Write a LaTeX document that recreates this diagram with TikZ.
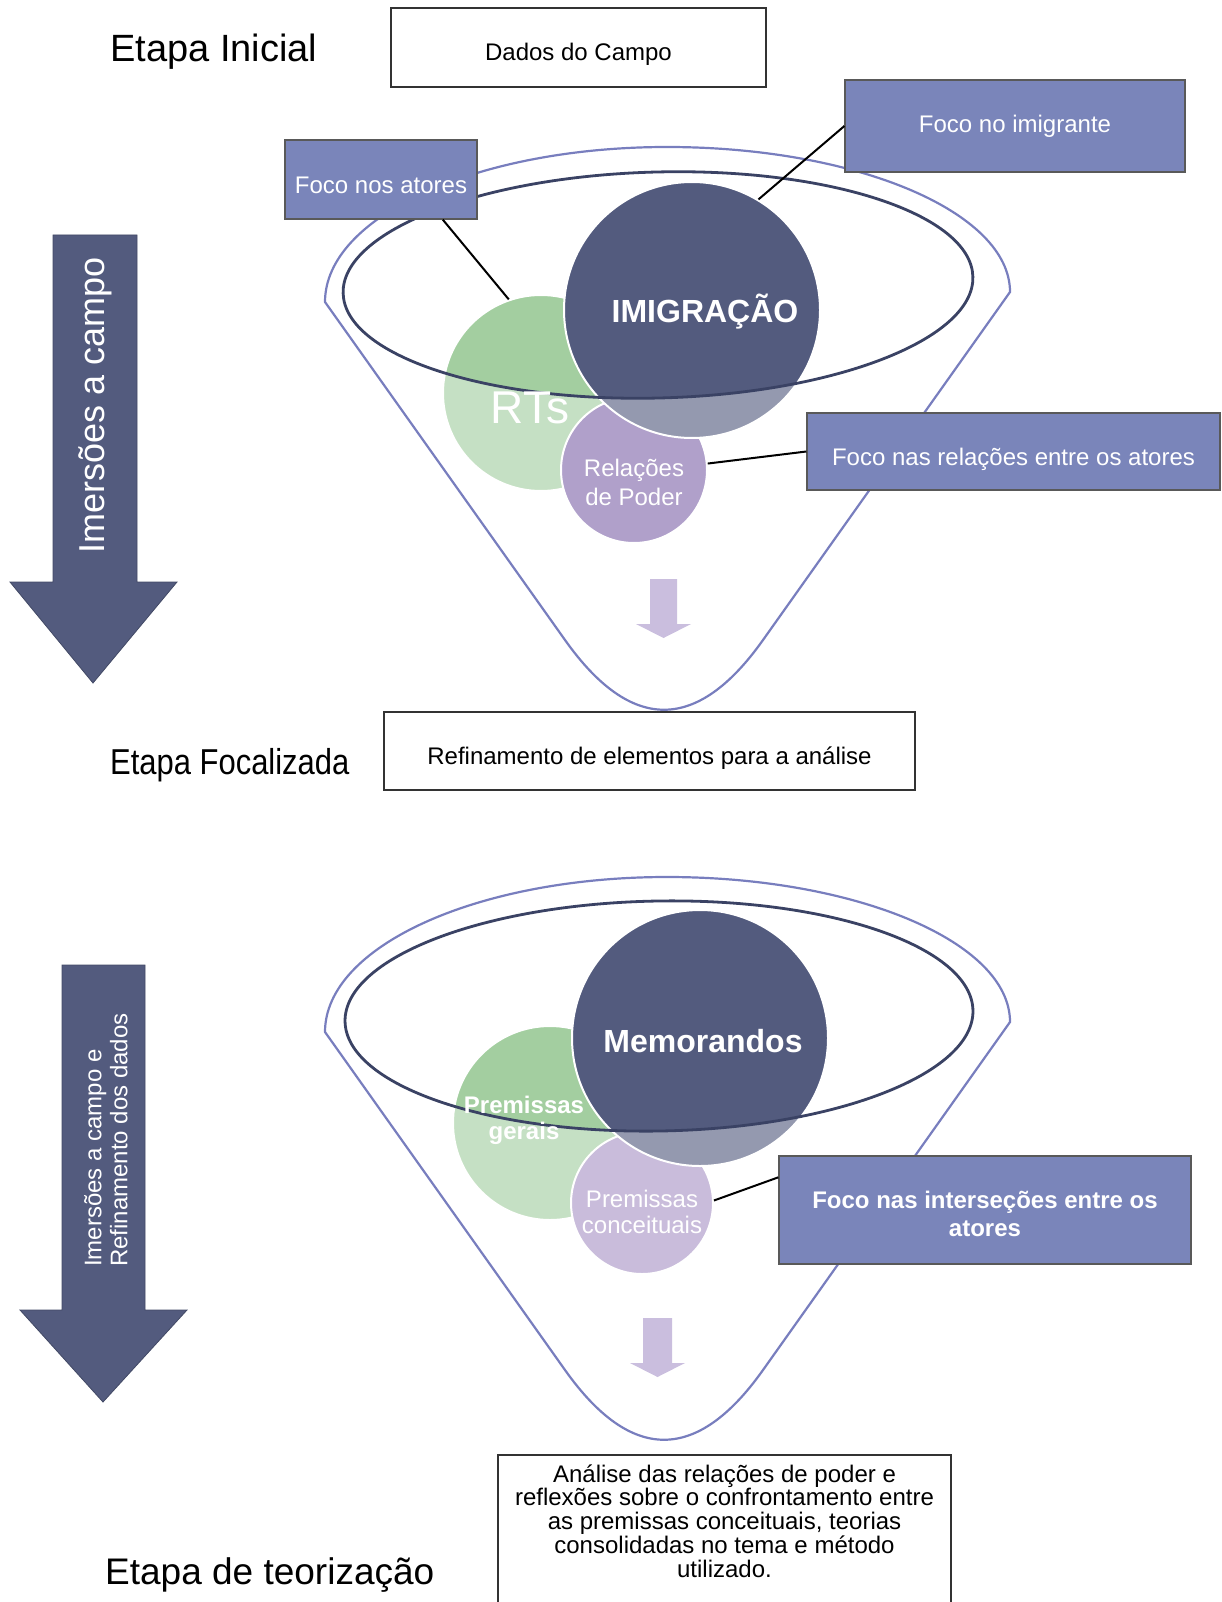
\documentclass[tikz,border=0pt]{standalone}
\usepackage{fontspec}
\setmainfont{Liberation Sans}
\definecolor{navy}{RGB}{83,91,126}
\definecolor{navyline}{RGB}{58,66,100}
\definecolor{boxblue}{RGB}{122,133,186}
\definecolor{rim}{RGB}{120,126,190}
\definecolor{grn}{RGB}{163,206,160}
\definecolor{purA}{RGB}{128,102,171}
\definecolor{purB}{RGB}{168,148,197}
\definecolor{smallarr}{RGB}{202,190,222}
\tikzset{
  stage/.style={anchor=west, inner sep=0pt},
  wbox/.style={draw=black!80, line width=1.2pt, fill=white, font=\fontsize{24}{24}\selectfont, inner sep=0pt},
  bbox/.style={draw=black!65, line width=1.2pt, fill=boxblue, text=white, font=\fontsize{24}{28}\selectfont, inner sep=0pt},
  circ/.style={circle, draw=white, line width=2pt, inner sep=0pt},
  link/.style={line width=2pt, draw=black},
  rimline/.style={draw=rim, line width=2.2pt},
  innerell/.style={draw=navyline, line width=2.8pt},
  bigarrow/.style={fill=navy, draw=navy!80!black, line width=0.8pt},
  smallarrow/.style={fill=smallarr},
  ctext/.style={text=white, inner sep=0pt, align=center},
}
\def\funnelpath{(325,302) .. controls (325,216) and (478,147) .. (667,147) .. controls (856,147) and (1010,212) .. (1010,292) -- (763,640) .. controls (697,733) and (631,733) .. (565,640) -- cycle}
\begin{document}
\begin{tikzpicture}[x=1pt,y=-1pt]
\useasboundingbox (0,0) rectangle (1221,1602);

% ---------- stage labels ----------
\node[stage, font=\fontsize{38}{44}\selectfont] (s1) at (110,52) {Etapa Inicial};
\node[stage, font=\fontsize{36}{42}\selectfont, xscale=0.86] (s2) at (110,765) {Etapa Focalizada};
\node[stage, font=\fontsize{37}{43}\selectfont] (s3) at (105,1575) {Etapa de teorização};

% ---------- big arrows ----------
\draw[bigarrow] (53,235) -- (137,235) -- (137,582) -- (177,582) -- (93,683) -- (10,582) -- (53,582) -- cycle;
\node[ctext, rotate=90, font=\fontsize{36}{40}\selectfont] (a1) at (95,405) {Imersões a campo};
\draw[bigarrow] (62,965) -- (145,965) -- (145,1310) -- (187,1310) -- (103,1402) -- (20,1310) -- (62,1310) -- cycle;
\node[ctext, rotate=90, align=left, font=\fontsize{24}{26}\selectfont] (a2) at (106,1140) {Imersões a campo e\\Refinamento dos dados};

% ---------- top funnel ----------
\node[circ, fill=grn, minimum size=196pt] (g1) at (541,393) {};
\node[circ, fill=purA, minimum size=146pt] (p1) at (634,470) {};
\node[circ, fill=navy, minimum size=256pt] (d1) at (692,310) {};
\fill[white, opacity=0.38] \funnelpath;
\begin{scope}
  \clip[rotate around={1.5:(658,285)}] (658,285) ellipse [x radius=315, y radius=113];
  \filldraw[fill=grn, draw=white, line width=2pt] (541,393) circle [radius=98];
  \filldraw[fill=navy, draw=white, line width=2pt] (692,310) circle [radius=128];
\end{scope}
\draw[rimline] \funnelpath;
\draw[innerell, rotate around={1.5:(658,285)}] (658,285) ellipse [x radius=315, y radius=113];
\node[ctext, font=\bfseries\fontsize{32}{36}\selectfont] (t1) at (705,312) {IMIGRAÇÃO};
\node[ctext, font=\fontsize{46}{50}\selectfont] (t2) at (530,408) {RTs};
\node[ctext, font=\fontsize{24}{29}\selectfont] (t3) at (634,482) {Relações\\de Poder};
\fill[smallarrow] (650,579) -- (677,579) -- (677,624) -- (691,624) -- (663.5,638) -- (636,624) -- (650,624) -- cycle;

% ---------- bottom funnel ----------
\node[circ, fill=grn, minimum size=194pt] (g2) at (550,1123) {};
\node[circ, fill=purB, minimum size=142pt] (p2) at (642,1203) {};
\node[circ, fill=navy, minimum size=256pt] (d2) at (700,1038) {};
\begin{scope}[shift={(0,730)}]
  \fill[white, opacity=0.38] \funnelpath;
\end{scope}
\begin{scope}
  \clip[rotate around={1:(659,1016)}] (659,1016) ellipse [x radius=314, y radius=115];
  \filldraw[fill=grn, draw=white, line width=2pt] (550,1123) circle [radius=97];
  \filldraw[fill=navy, draw=white, line width=2pt] (700,1038) circle [radius=128];
\end{scope}
\begin{scope}[shift={(0,730)}]
  \draw[rimline] \funnelpath;
\end{scope}
\draw[innerell, rotate around={1:(659,1016)}] (659,1016) ellipse [x radius=314, y radius=115];
\node[ctext, font=\bfseries\fontsize{32}{36}\selectfont] (t4) at (703,1041) {Memorandos};
\node[ctext, font=\bfseries\fontsize{24}{26}\selectfont] (t5) at (524,1120) {Premissas\\gerais};
\node[ctext, font=\fontsize{24}{26}\selectfont] (t6) at (642,1212) {Premissas\\conceituais};
\fill[smallarrow] (643,1318) -- (672,1318) -- (672,1363) -- (685,1363) -- (657.5,1377) -- (630,1363) -- (643,1363) -- cycle;

% ---------- boxes ----------
\node[wbox, minimum width=375pt, minimum height=79pt, text height=26.4pt, text depth=0pt] (dados) at (578.5,47.5) {Dados do Campo};
\node[bbox, minimum width=340pt, minimum height=92pt] (fni) at (1015,126) {Foco no imigrante};
\node[bbox, minimum width=192pt, minimum height=79pt, text height=27.2pt, text depth=0pt] (fna) at (381,179.5) {Foco nos atores};
\node[bbox, minimum width=413pt, minimum height=77pt, text height=27.8pt, text depth=0pt] (fnr) at (1013.5,451.5) {Foco nas relações entre os atores};
\node[wbox, minimum width=531pt, minimum height=78pt, text height=27.2pt, text depth=0pt] (refin) at (649.5,751) {Refinamento de elementos para a análise};
\node[bbox, minimum width=412pt, minimum height=108pt, align=center, text height=53pt, text depth=0pt, font=\bfseries\fontsize{24}{28}\selectfont] (fni2) at (985,1210) {Foco nas interseções entre os\\atores};
\draw[black!80, line width=1.2pt] (498,1602) -- (498,1455) -- (951,1455) -- (951,1602);
\node[inner sep=0pt, align=center, font=\fontsize{24}{23.8}\selectfont] (analise) at (724.5,1521) {Análise das relações de poder e\\reflexões sobre o confrontamento entre\\as premissas conceituais, teorias\\consolidadas no tema e método\\utilizado.};

% ---------- connectors ----------
\draw[link] (fna.-33) -- (g1.109);
\draw[link] (fni.west) -- (d1.59);
\draw[link] (p1.5) -- (fnr.west);
\draw[link] (p2.2) -- (fni2.171);
\end{tikzpicture}
\end{document}
